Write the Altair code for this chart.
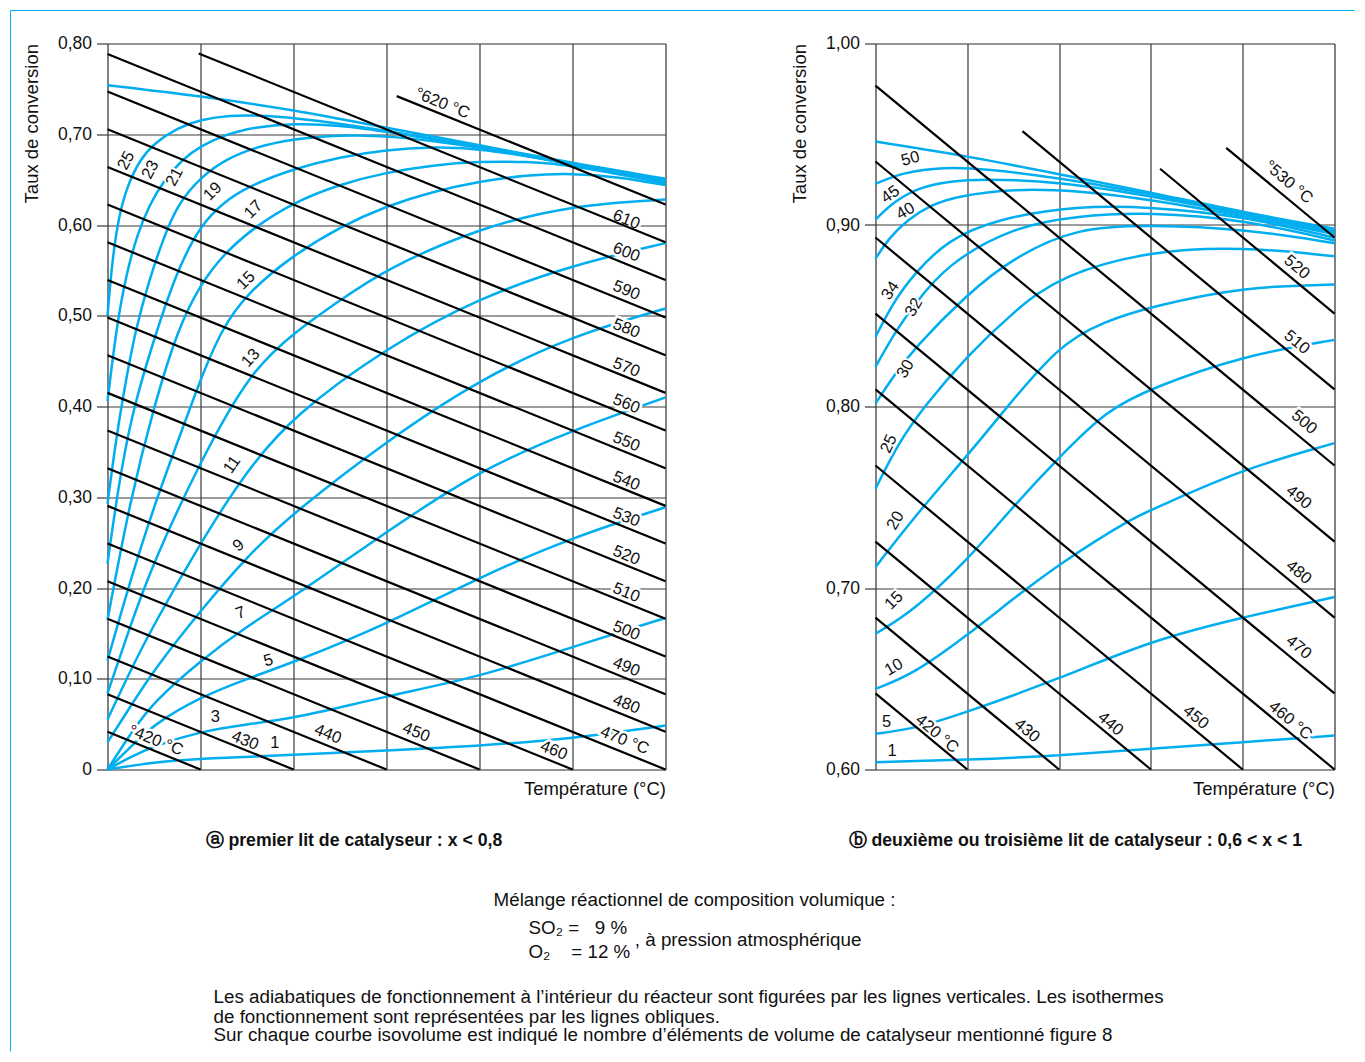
import altair as alt
import pandas as pd

BLUE = "#00AEEF"
FONT = "Liberation Sans, Arial, Helvetica, sans-serif"
GRID = "#3a3a3a"

# ======================= Panel a (x < 0.8) =======================
# isotherms (oblique black lines): start / end points
a_iso_T = [420, 430, 440, 450, 460, 470, 480, 490, 500, 510, 520, 530, 540,
           550, 560, 570, 580, 590, 600, 610, 620]
a_iso_x0 = [0, 0, 0, 0, 0, 0, 0, 0, 0, 0, 0, 0, 0, 0, 0, 0, 0, 0, 0, 0.98, 3.11]
a_iso_y0 = [0.0415, 0.083, 0.1245, 0.166, 0.2075, 0.249, 0.2905, 0.332, 0.3735,
            0.415, 0.4565, 0.498, 0.5395, 0.581, 0.6225, 0.664, 0.7055, 0.747,
            0.7885, 0.789, 0.742]
a_iso_x1 = [1, 2, 3, 4, 5, 6, 6, 6, 6, 6, 6, 6, 6, 6, 6, 6, 6, 6, 6, 6, 6]
a_iso_y1 = [0, 0, 0, 0, 0, 0, 0.0415, 0.083, 0.1245, 0.166, 0.2075, 0.249,
            0.2905, 0.332, 0.3735, 0.415, 0.4565, 0.498, 0.5395, 0.581, 0.6225]

a_isolab_text = ["°620 °C", "610", "600", "590", "580", "570", "560", "550", "540",
                 "530", "520", "510", "500", "490", "480", "470 °C", "460", "450",
                 "440", "430", "°420 °C"]
a_isolab_x = [3.60, 5.58, 5.58, 5.58, 5.58, 5.58, 5.58, 5.58, 5.58, 5.58, 5.58,
              5.58, 5.58, 5.58, 5.58, 5.56, 4.80, 3.32, 2.37, 1.48, 0.52]
a_isolab_y = [0.734, 0.606, 0.570, 0.528, 0.486, 0.443, 0.403, 0.361, 0.318,
              0.278, 0.236, 0.195, 0.153, 0.113, 0.072, 0.032, 0.021, 0.041,
              0.039, 0.032, 0.032]

# isovolume curves (blue)
a_eq_x = [0, 1, 2, 3, 4, 5, 6]
a_eq_y = [0.754, 0.742, 0.727, 0.707, 0.688, 0.668, 0.651]
a_25_x = [0, 0.05, 0.12, 0.22, 0.35, 0.5, 0.75, 1.0, 1.3, 1.7, 2.2, 3, 4, 5, 6]
a_25_y = [0.50, 0.56, 0.61, 0.645, 0.672, 0.69, 0.707, 0.716, 0.721, 0.721,
          0.716, 0.704, 0.686, 0.667, 0.650]
a_23_x = [0, 0.1, 0.2, 0.32, 0.45, 0.6, 0.8, 1.0, 1.3, 1.6, 2.0, 2.5, 3, 4, 5, 6]
a_23_y = [0.406, 0.49, 0.545, 0.59, 0.622, 0.648, 0.672, 0.687, 0.701, 0.708,
          0.712, 0.710, 0.703, 0.686, 0.667, 0.649]
a_21_x = [0, 0.1, 0.2, 0.3, 0.45, 0.6, 0.75, 1.0, 1.3, 1.6, 2.0, 2.5, 3, 4, 5, 6]
a_21_y = [0.293, 0.37, 0.43, 0.484, 0.54, 0.585, 0.622, 0.653, 0.674, 0.686,
          0.695, 0.699, 0.699, 0.686, 0.667, 0.648]
a_19_x = [0, 0.1, 0.25, 0.53, 0.75, 1.0, 1.25, 1.5, 2, 2.5, 3, 3.5, 4, 5, 6]
a_19_y = [0.227, 0.30, 0.39, 0.484, 0.55, 0.60, 0.625, 0.642, 0.662, 0.675,
          0.683, 0.686, 0.685, 0.667, 0.647]
a_17_x = [0, 0.25, 0.5, 0.75, 1.0, 1.25, 1.57, 2, 2.5, 3, 3.5, 4, 4.5, 5, 6]
a_17_y = [0.165, 0.30, 0.40, 0.484, 0.535, 0.568, 0.597, 0.625, 0.645, 0.658,
          0.666, 0.670, 0.670, 0.666, 0.646]
a_15_x = [0, 0.25, 0.5, 0.75, 1.0, 1.22, 1.5, 2, 2.5, 3, 3.5, 4, 4.5, 5, 5.5, 6]
a_15_y = [0.12, 0.21, 0.29, 0.36, 0.43, 0.484, 0.525, 0.567, 0.598, 0.621,
          0.637, 0.648, 0.655, 0.657, 0.653, 0.644]
a_13_x = [0, 0.25, 0.5, 1.0, 1.54, 2.04, 2.5, 3, 4, 5, 6]
a_13_y = [0.084, 0.16, 0.23, 0.34, 0.44, 0.484, 0.517, 0.552, 0.597, 0.622, 0.628]
a_11_x = [0, 0.25, 0.5, 1.0, 1.5, 2, 3, 4, 5, 6]
a_11_y = [0.055, 0.11, 0.16, 0.25, 0.33, 0.39, 0.465, 0.52, 0.556, 0.58]
a_9_x = [0, 0.25, 0.5, 1.0, 1.5, 2, 3, 4, 5, 6]
a_9_y = [0.03, 0.07, 0.11, 0.175, 0.235, 0.283, 0.362, 0.43, 0.478, 0.508]
a_7_x = [0, 0.25, 0.5, 1.0, 1.5, 2, 3, 4, 5, 6]
a_7_y = [0, 0.04, 0.075, 0.12, 0.158, 0.19, 0.262, 0.33, 0.374, 0.41]
a_5_x = [0, 0.25, 0.5, 1.0, 1.5, 2, 3, 4, 5, 6]
a_5_y = [0, 0.025, 0.05, 0.08, 0.1, 0.118, 0.16, 0.212, 0.256, 0.289]
a_3_x = [0, 0.25, 0.5, 1, 1.5, 2, 3, 4, 5, 6]
a_3_y = [0, 0.014, 0.026, 0.042, 0.05, 0.056, 0.081, 0.102, 0.135, 0.167]
a_1_x = [0, 0.5, 1, 2, 3, 4, 5, 6]
a_1_y = [0, 0.008, 0.012, 0.016, 0.021, 0.026, 0.034, 0.0485]

a_vollab_text = ["25", "23", "21", "19", "17", "15", "13", "11", "9", "7", "5", "3", "1"]
a_vollab_x = [0.20, 0.46, 0.72, 1.13, 1.57, 1.49, 1.54, 1.34, 1.41, 1.43, 1.73, 1.16, 1.80]
a_vollab_y = [0.671, 0.661, 0.653, 0.637, 0.617, 0.539, 0.4535, 0.336, 0.247,
              0.1725, 0.12, 0.058, 0.029]
a_vollab_angle = [298, 298, 298, 315, 315, 315, 312, 305, 320, 340, 345, 0, 0]

a_yticks = [0, 0.1, 0.2, 0.3, 0.4, 0.5, 0.6, 0.7, 0.8]
a_xgrid = [0, 1, 2, 3, 4, 5, 6]

# ======================= Panel b (0.6 < x < 1) =======================
b_iso_T = [420, 430, 440, 450, 460, 470, 480, 490, 500, 510, 520, 530]
b_iso_x0 = [0, 0, 0, 0, 0, 0, 0, 0, 0, 1.60, 3.10, 3.82]
b_iso_y0 = [0.6419, 0.6837, 0.7256, 0.7675, 0.8094, 0.8512, 0.8931, 0.9350,
            0.9768, 0.9517, 0.9310, 0.9425]
b_iso_x1 = [1, 2, 3, 4, 5, 5, 5, 5, 5, 5, 5, 5]
b_iso_y1 = [0.6, 0.6, 0.6, 0.6, 0.6, 0.6419, 0.6837, 0.7256, 0.7675, 0.8094,
            0.8512, 0.8931]

b_isolab_text = ["°530 °C", "520", "510", "500", "490", "480", "470", "460 °C",
                 "450", "440", "430", "420 °C"]
b_isolab_x = [4.50, 4.59, 4.59, 4.67, 4.61, 4.61, 4.61, 4.52, 3.49, 2.56, 1.65, 0.67]
b_isolab_y = [0.9236, 0.8768, 0.8354, 0.7914, 0.750, 0.7087, 0.6674, 0.627,
              0.6288, 0.6252, 0.6215, 0.6197]

b_eq_x = [0, 1, 2, 3, 4, 5]
b_eq_y = [0.946, 0.938, 0.928, 0.918, 0.907, 0.898]
b_50_x = [0, 0.3, 0.74, 1.2, 2, 3, 4, 5]
b_50_y = [0.9227, 0.929, 0.932, 0.931, 0.926, 0.917, 0.907, 0.897]
b_45_x = [0, 0.2, 0.49, 0.8, 1.14, 2, 3, 4, 5]
b_45_y = [0.903, 0.913, 0.921, 0.924, 0.9255, 0.924, 0.916, 0.906, 0.896]
b_40_x = [0, 0.15, 0.35, 0.6, 0.9, 1.5, 2.2, 3, 4, 5]
b_40_y = [0.8815, 0.893, 0.903, 0.911, 0.916, 0.920, 0.919, 0.914, 0.905, 0.895]
b_34_x = [0, 0.2, 0.42, 0.78, 1.33, 2.2, 3, 4, 5]
b_34_y = [0.8383, 0.858, 0.873, 0.8917, 0.9035, 0.9107, 0.910, 0.905, 0.893]
b_32_x = [0, 0.2, 0.42, 0.78, 1.5, 2.2, 3, 4, 5]
b_32_y = [0.8218, 0.84, 0.856, 0.8785, 0.899, 0.9052, 0.907, 0.903, 0.8915]
b_30_x = [0, 0.2, 0.42, 1, 1.5, 2.2, 3, 4, 5]
b_30_y = [0.8016, 0.817, 0.832, 0.862, 0.882, 0.8988, 0.900, 0.898, 0.890]
b_25_x = [0, 0.25, 0.53, 1, 1.5, 2, 3, 4, 5]
b_25_y = [0.7547, 0.78, 0.80, 0.828, 0.852, 0.872, 0.886, 0.888, 0.8828]
b_20_x = [0, 0.42, 1, 1.33, 2, 2.5, 3, 4, 5]
b_20_y = [0.7115, 0.739, 0.773, 0.7933, 0.8345, 0.847, 0.855, 0.866, 0.8672]
b_15_x = [0, 0.42, 1, 1.5, 2, 2.52, 3, 4, 5]
b_15_y = [0.6748, 0.6877, 0.7152, 0.745, 0.772, 0.798, 0.81, 0.828, 0.8367]
b_10_x = [0, 0.42, 1, 1.5, 2, 2.81, 3, 4, 5]
b_10_y = [0.6444, 0.6527, 0.674, 0.694, 0.7133, 0.739, 0.7427, 0.7657, 0.7798]
b_5_x = [0, 0.42, 1, 2, 3, 4, 5]
b_5_y = [0.6197, 0.6224, 0.6316, 0.65, 0.6711, 0.6839, 0.695]
b_1_x = [0, 1, 2, 3, 4, 5]
b_1_y = [0.604, 0.6053, 0.6077, 0.6114, 0.615, 0.6187]

b_vollab_text = ["50", "45", "40", "34", "32", "30", "25", "20", "15", "10", "5", "1"]
b_vollab_x = [0.38, 0.163, 0.327, 0.163, 0.418, 0.327, 0.145, 0.218, 0.20, 0.20, 0.12, 0.18]
b_vollab_y = [0.9365, 0.9168, 0.9076, 0.8639, 0.8547, 0.8207, 0.7794, 0.7372,
              0.6931, 0.6564, 0.6261, 0.6104]
b_vollab_angle = [345, 325, 330, 305, 300, 300, 295, 300, 315, 330, 0, 0]

b_yticks = [0.6, 0.7, 0.8, 0.9, 1.0]
b_xgrid = [0, 1, 2, 3, 4, 5]

# ======================= Notes (positions in panel-a data units) =======================
NB = "\u00a0"
FS = "\u2007"
cap_text = ["ⓐ premier lit de catalyseur : x < 0,8",
            "ⓑ deuxième ou troisième lit de catalyseur : 0,6 < x < 1"]
cap_x = [1.054, 7.968]
cap_y = [-0.0793, -0.0793]

mix_text = ["Mélange réactionnel de composition volumique :"]
mix_x = [6.312]
mix_y = [-0.1433]

comp_text = ["SO₂" + NB + "=" + NB + FS + "9" + NB + "%",
             "O₂" + NB * 4 + "=" + NB + "12" + NB + "%",
             ", à pression atmosphérique"]
comp_x = [4.527, 4.527, 5.67]
comp_y = [-0.1752, -0.2006, -0.1884]

para_text = [
    "Les adiabatiques de fonctionnement à l’intérieur du réacteur sont figurées par les lignes verticales. Les isothermes",
    "de fonctionnement sont représentées par les lignes obliques.",
    "Sur chaque courbe isovolume est indiqué le nombre d’éléments de volume de catalyseur mentionné figure 8",
]
para_x = [1.140, 1.140, 1.140]
para_y = [-0.2512, -0.2722, -0.2931]


# ======================= builders =======================
def curves_frame(pairs):
    rows = []
    for name, xs, ys in pairs:
        for i, (x, y) in enumerate(zip(xs, ys)):
            rows.append({"curve": name, "i": i, "x": x, "y": y})
    return pd.DataFrame(rows)


def panel(xmax, ydom, yticks, xgrid, label_expr, curves, iso, isolab, vollab,
          iso_angle, width, height, extra=False):
    xs = alt.Scale(domain=[0, xmax], nice=False, zero=False)
    ys = alt.Scale(domain=ydom, nice=False, zero=False)
    xaxis = alt.Axis(values=xgrid, grid=True, labels=False, ticks=False, domain=False,
                     gridColor=GRID, gridWidth=1.2, title="Température (°C)",
                     titleAnchor="end", titleFont=FONT, titleFontSize=18.5,
                     titleFontWeight="normal", titleColor="#111", titlePadding=10)
    yaxis = alt.Axis(values=yticks, grid=True, domain=False, labelExpr=label_expr,
                     tickSize=11, tickColor=GRID, tickWidth=1.2, gridColor=GRID,
                     gridWidth=1.2, labelFont=FONT, labelFontSize=17.5, labelColor="#111",
                     labelPadding=5, title="Taux de conversion", titleAnchor="end",
                     titleFont=FONT, titleFontSize=18.5, titleFontWeight="normal",
                     titleColor="#111", titlePadding=16)

    def X(f):
        return alt.X(f, type="quantitative", scale=xs, axis=xaxis)

    def Y(f):
        return alt.Y(f, type="quantitative", scale=ys, axis=yaxis)

    lines = alt.Chart(curves).mark_line(color=BLUE, strokeWidth=2.5,
                                        interpolate="basis").encode(
        x=X("x"), y=Y("y"), detail="curve:N", order="i:Q")

    halo_iso = alt.Chart(isolab).mark_text(font=FONT, fontSize=16.5, fill="white",
                                           stroke="white", strokeWidth=5,
                                           angle=iso_angle).encode(
        x=X("x"), y=Y("y"), text="t:N")
    halo_vol = alt.Chart(vollab).mark_text(font=FONT, fontSize=16.5, fill="white",
                                           stroke="white", strokeWidth=4).encode(
        x=X("x"), y=Y("y"), text="t:N", angle=alt.Angle("a:Q", scale=None))

    iso_rules = alt.Chart(iso).mark_rule(color="black", strokeWidth=2.2).encode(
        x=X("x0"), y=Y("y0"), x2="x1", y2="y1")

    txt_iso = alt.Chart(isolab).mark_text(font=FONT, fontSize=16.5, color="#111",
                                          angle=iso_angle).encode(
        x=X("x"), y=Y("y"), text="t:N")
    txt_vol = alt.Chart(vollab).mark_text(font=FONT, fontSize=16.5, color="#111").encode(
        x=X("x"), y=Y("y"), text="t:N", angle=alt.Angle("a:Q", scale=None))

    layers = [lines, halo_iso, halo_vol, iso_rules, txt_iso, txt_vol]

    if extra:
        one = alt.Data(values=[{}])
        # light-blue page frame (top and left)
        layers.append(alt.Chart(one).mark_rule(color=BLUE, strokeWidth=1).encode(
            x=alt.value(-97), y=alt.value(-33), y2=alt.value(1008)))
        layers.append(alt.Chart(one).mark_rule(color=BLUE, strokeWidth=1).encode(
            x=alt.value(-97), x2=alt.value(1247), y=alt.value(-33)))

        def notes(texts, nx_, ny_, align, weight, size):
            df = pd.DataFrame({"t": texts, "x": nx_, "y": ny_})
            return alt.Chart(df).mark_text(font=FONT, fontSize=size, align=align,
                                           baseline="middle", fontWeight=weight,
                                           color="#111").encode(
                x=X("x"), y=Y("y"), text="t:N")

        layers.append(notes(cap_text, cap_x, cap_y, "left", "bold", 17.7))
        layers.append(notes(mix_text, mix_x, mix_y, "center", "normal", 18.8))
        layers.append(notes(comp_text, comp_x, comp_y, "left", "normal", 18.8))
        layers.append(notes(para_text, para_x, para_y, "left", "normal", 18.8))

    return alt.layer(*layers).properties(width=width, height=height)


a_curves = curves_frame([
    ("eq", a_eq_x, a_eq_y), ("25", a_25_x, a_25_y), ("23", a_23_x, a_23_y),
    ("21", a_21_x, a_21_y), ("19", a_19_x, a_19_y), ("17", a_17_x, a_17_y),
    ("15", a_15_x, a_15_y), ("13", a_13_x, a_13_y), ("11", a_11_x, a_11_y),
    ("9", a_9_x, a_9_y), ("7", a_7_x, a_7_y), ("5", a_5_x, a_5_y),
    ("3", a_3_x, a_3_y), ("1", a_1_x, a_1_y)])
b_curves = curves_frame([
    ("eq", b_eq_x, b_eq_y), ("50", b_50_x, b_50_y), ("45", b_45_x, b_45_y),
    ("40", b_40_x, b_40_y), ("34", b_34_x, b_34_y), ("32", b_32_x, b_32_y),
    ("30", b_30_x, b_30_y), ("25", b_25_x, b_25_y), ("20", b_20_x, b_20_y),
    ("15", b_15_x, b_15_y), ("10", b_10_x, b_10_y), ("5", b_5_x, b_5_y),
    ("1", b_1_x, b_1_y)])

a_iso = pd.DataFrame({"T": a_iso_T, "x0": a_iso_x0, "y0": a_iso_y0,
                      "x1": a_iso_x1, "y1": a_iso_y1})
b_iso = pd.DataFrame({"T": b_iso_T, "x0": b_iso_x0, "y0": b_iso_y0,
                      "x1": b_iso_x1, "y1": b_iso_y1})
a_isolab = pd.DataFrame({"t": a_isolab_text, "x": a_isolab_x, "y": a_isolab_y})
b_isolab = pd.DataFrame({"t": b_isolab_text, "x": b_isolab_x, "y": b_isolab_y})
a_vollab = pd.DataFrame({"t": a_vollab_text, "x": a_vollab_x, "y": a_vollab_y,
                         "a": a_vollab_angle})
b_vollab = pd.DataFrame({"t": b_vollab_text, "x": b_vollab_x, "y": b_vollab_y,
                         "a": b_vollab_angle})

panel_a = panel(6, [0, 0.8], a_yticks, a_xgrid,
                "datum.value == 0 ? '0' : replace(format(datum.value, '.2f'), '.', ',')",
                a_curves, a_iso, a_isolab, a_vollab, 22, 558, 726, extra=True)
panel_b = panel(5, [0.6, 1.0], b_yticks, b_xgrid,
                "replace(format(datum.value, '.2f'), '.', ',')",
                b_curves, b_iso, b_isolab, b_vollab, 40, 459, 726)

chart = alt.hconcat(panel_a, panel_b, spacing=210, bounds="flush").properties(
    padding={"left": 1.5, "top": 1.5, "right": 0, "bottom": 0}
).configure_view(stroke=GRID, strokeWidth=1.4
).configure(background="white")

chart.save("out.html", embed_options={"renderer": "svg", "actions": False})
